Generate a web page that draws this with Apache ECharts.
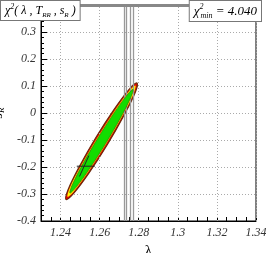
<!DOCTYPE html>
<html><head><meta charset="utf-8">
<script src="https://cdn.jsdelivr.net/npm/echarts@6/dist/echarts.min.js"></script>
<style>html,body{margin:0;padding:0;background:#fff}#c{width:266px;height:253px}</style>
</head><body><div id="c"></div>
<script>
// ---- data ----
const xTickValues = [1.24, 1.26, 1.28, 1.30, 1.32, 1.34];
const xTickLabels = ['1.24', '1.26', '1.28', '1.3', '1.32', '1.34'];
const yTickValues = [-0.4, -0.3, -0.2, -0.1, 0, 0.1, 0.2, 0.3];
const yTickLabels = ['-0.4', '-0.3', '-0.2', '-0.1', '0', '0.1', '0.2', '0.3'];
const lambdaLines = [1.2725, 1.2738, 1.2756, 1.2771];
const contourRed = [[1.2791,0.1111],[1.2782,0.0758],[1.2725,-0.0079],[1.2639,-0.1175],[1.2544,-0.2237],[1.2467,-0.2978],[1.2428,-0.3204],[1.2438,-0.2850],[1.2494,-0.2014],[1.2580,-0.0917],[1.2675,0.0145],[1.2752,0.0886]];
const contourYellow = [[1.2783,0.1014],[1.2772,0.0686],[1.2717,-0.0105],[1.2633,-0.1149],[1.2543,-0.2166],[1.2471,-0.2882],[1.2436,-0.3106],[1.2447,-0.2779],[1.2502,-0.1987],[1.2586,-0.0944],[1.2676,0.0074],[1.2748,0.0790]];
const contourGreen = [[1.2771,0.0874],[1.2759,0.0572],[1.2708,-0.0164],[1.2630,-0.1136],[1.2546,-0.2084],[1.2479,-0.2754],[1.2448,-0.2966],[1.2460,-0.2664],[1.2511,-0.1928],[1.2589,-0.0956],[1.2673,-0.0008],[1.2740,0.0662]];
const bestFitH = [[1.2483, -0.197], [1.2575, -0.197]];
const bestFitD = [[1.2497, -0.235], [1.2545, -0.158]];
const chi2min = '4.040';
const yMin = -0.4, yMax = 0.4, xMin = 1.23, xMax = 1.34;

const serif = 'Liberation Serif';
function lab(values, labels) {
  return function (v) {
    for (let i = 0; i < values.length; i++) if (Math.abs(values[i] - v) < 1e-6) return labels[i];
    return '';
  };
}
function polySeries(pts, fill, stroke, lw, z) {
  return {
    type: 'custom', z: z, silent: true,
    data: pts,
    renderItem: function (params, api) {
      if (params.dataIndex !== 0) return null;
      const p = pts.map(d => api.coord(d));
      return { type: 'polygon', shape: { points: p, smooth: 0.35 },
        style: { fill: fill, stroke: stroke, lineWidth: lw } };
    }
  };
}
const gridDot = { color: '#aaa', type: [1, 2], width: 1 };
const chart = echarts.init(document.getElementById('c'), null, { renderer: 'canvas' });
chart.setOption({
  animation: false,
  backgroundColor: '#fff',
  grid: { left: 41, right: 10, top: 5, bottom: 32, show: true, borderColor: '#000', borderWidth: 1,
    containLabel: false, outerBoundsMode: 'none' },
  xAxis: {
    type: 'value', min: xMin, max: xMax, interval: 0.005,
    axisLine: { show: true, onZero: false, lineStyle: { color: '#000', width: 1 } },
    axisTick: { show: true, inside: true, length: 4, lineStyle: { color: '#000' } },
    splitLine: { show: false },
    axisLabel: { formatter: lab(xTickValues, xTickLabels), margin: 6, color: '#333',
      fontFamily: serif, fontStyle: 'italic', fontSize: 12, hideOverlap: false },
    name: 'λ', nameLocation: 'middle', nameGap: 22,
    nameTextStyle: { fontFamily: serif, fontSize: 15, color: '#000' }
  },
  yAxis: {
    type: 'value', min: yMin, max: yMax, interval: 0.1,
    axisLine: { show: true, onZero: false, lineStyle: { color: '#000', width: 1 } },
    axisTick: { show: true, inside: true, length: 6, lineStyle: { color: '#000' } },
    minorTick: { show: true, splitNumber: 5, length: 3, lineStyle: { color: '#000' } },
    splitLine: { show: true, lineStyle: gridDot },
    axisLabel: { formatter: lab(yTickValues, yTickLabels), showMaxLabel: false, margin: 5, color: '#333',
      fontFamily: serif, fontStyle: 'italic', fontSize: 12 },
    name: '{i|s}{sub|R}', nameLocation: 'middle', nameGap: 29,
    nameTextStyle: { rich: {
      i: { fontFamily: serif, fontStyle: 'italic', fontSize: 14, color: '#000' },
      sub: { fontFamily: serif, fontStyle: 'italic', fontSize: 9, color: '#000', verticalAlign: 'bottom', padding: [6, 0, 0, 0] }
    } }
  },
  series: [
    { type: 'line', data: [], z: 1, silent: true,
      markLine: { silent: true, symbol: 'none', precision: 6, label: { show: false }, animation: false,
        data: xTickValues.map(v => ({ xAxis: v, lineStyle: gridDot }))
          .concat(lambdaLines.map(v => ({ xAxis: v, lineStyle: { color: '#999', type: 'solid', width: 1.3 } })))
          .concat([{ yAxis: yMax, lineStyle: { color: '#888', type: 'solid', width: 3 } }])
      } },
    polySeries(contourRed, '#ee0000', '#6b2a0a', 1.2, 3),
    polySeries(contourYellow, '#ffff00', null, 0, 4),
    polySeries(contourGreen, '#11dd00', '#3a6a10', 0.7, 5),
    { type: 'line', data: bestFitH, z: 6, symbol: 'none', silent: true, lineStyle: { color: '#222', width: 1 } },
    { type: 'line', data: bestFitD, z: 6, symbol: 'none', silent: true, lineStyle: { color: '#222', width: 1 } }
  ],
  graphic: [
    { type: 'text', left: 0, top: 0, z: 100,
      style: { text: '{t|χ}{sup|2}{t|( λ , }{i|T}{sub|RR}{t| , }{i|s}{sub|R}{t| )}',
        backgroundColor: '#fff', borderColor: '#777', borderWidth: 1, padding: [2, 4, 1, 4],
        rich: {
          t: { fontFamily: serif, fontStyle: 'italic', fontSize: 12, lineHeight: 16, fill: '#000' },
          i: { fontFamily: serif, fontStyle: 'italic', fontSize: 12, lineHeight: 16, fill: '#000' },
          sup: { fontFamily: serif, fontStyle: 'italic', fontSize: 8, lineHeight: 16, verticalAlign: 'top', fill: '#000' },
          sub: { fontFamily: serif, fontStyle: 'italic', fontSize: 7, lineHeight: 12, verticalAlign: 'bottom', fill: '#000' }
        } } },
    { type: 'text', right: 4, top: 0, z: 100,
      style: { text: '{t|χ}{sup|2}{sub|min}{t| = ' + chi2min + '}',
        backgroundColor: '#fff', borderColor: '#777', borderWidth: 1, padding: [2, 4, 1, 4],
        rich: {
          t: { fontFamily: serif, fontStyle: 'italic', fontSize: 13, lineHeight: 17, fill: '#000' },
          sup: { fontFamily: serif, fontStyle: 'italic', fontSize: 8, lineHeight: 17, width: 1, verticalAlign: 'top', fill: '#000' },
          sub: { fontFamily: serif, fontStyle: 'italic', fontSize: 8, lineHeight: 12, verticalAlign: 'bottom', fill: '#000' }
        } } }
  ]
});
</script></body></html>
